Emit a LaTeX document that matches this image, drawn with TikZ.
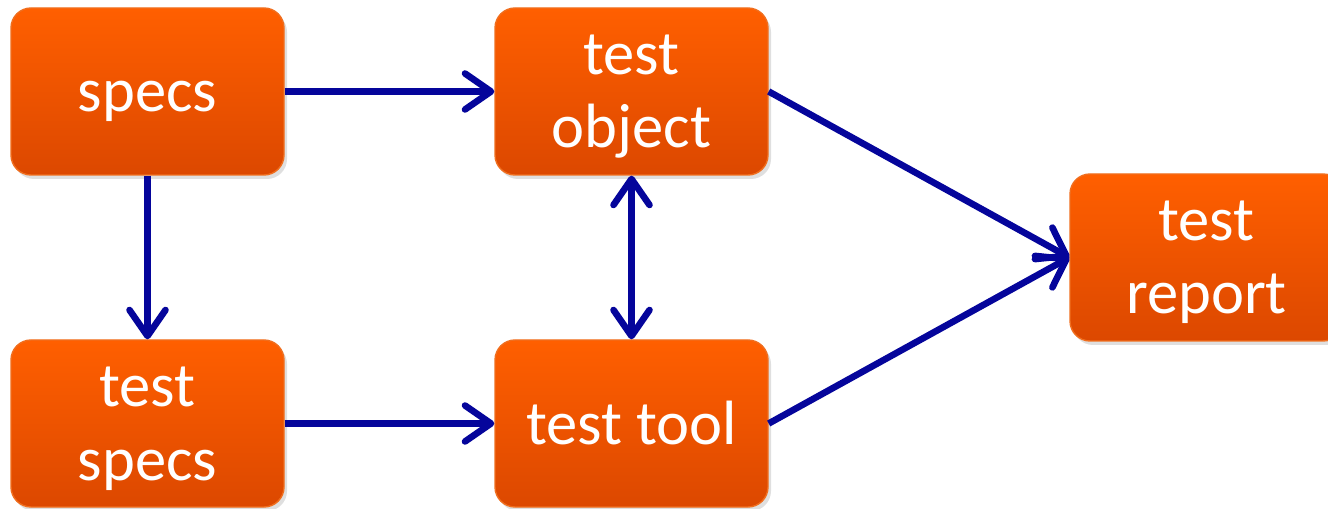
\documentclass[tikz,border=0pt]{standalone}
\usepackage{fontspec}
\setmainfont{Carlito}
\usetikzlibrary{arrows.meta,shadows}
\definecolor{boxtop}{RGB}{255,95,0}
\definecolor{boxbot}{RGB}{220,72,0}
\definecolor{boxline}{RGB}{240,110,30}
\definecolor{flowblue}{RGB}{5,5,155}
\tikzset{
	stagebox/.style={rectangle, rounded corners=0.2cm, minimum width=2.73cm, minimum height=1.67cm,
		inner sep=0pt, top color=boxtop, bottom color=boxbot, draw=boxline, line width=0.4pt,
		drop shadow={opacity=0.25, shadow xshift=0.03cm, shadow yshift=-0.04cm},
		text=white, align=center, font=\fontsize{17.8pt}{20.8pt}\selectfont},
	oneline/.style={stagebox, text height=0.55cm, text depth=0.14cm},
	twoline/.style={stagebox, text height=1.35cm, text depth=0.22cm},
	flow/.style={line width=0.066cm, color=flowblue, -{Straight Barb[length=0.26cm,width=0.36cm,round]}},
	twoflow/.style={flow, {Straight Barb[length=0.26cm,width=0.36cm,round]}-{Straight Barb[length=0.26cm,width=0.36cm,round]}}
}

\begin{document}
\begin{tikzpicture}
		%%%%% START %%%%%
		
		\useasboundingbox (0, 0) rectangle (13.28, 5.08);
		
		\node[oneline] (specs) at (1.475, 4.165) {specs};
		\node[twoline] (object) at (6.315, 4.165) {test\\object};
		\node[twoline] (tspecs) at (1.475, 0.845) {test\\specs};
		\node[oneline] (tool) at (6.315, 0.845) {test tool};
		\node[twoline] (report) at (12.065, 2.505) {test\\report};
		
		\draw[flow] (specs) -- (object);
		\draw[flow] (specs) -- (tspecs);
		\draw[flow] (tspecs) -- (tool);
		\draw[twoflow] (object) -- (tool);
		
		\draw[flow] (object.east) -- (report.west);
		\draw[flow] (tool.east) -- (report.west);
		
		%%%%% END %%%%%
	\end{tikzpicture}
\end{document}
